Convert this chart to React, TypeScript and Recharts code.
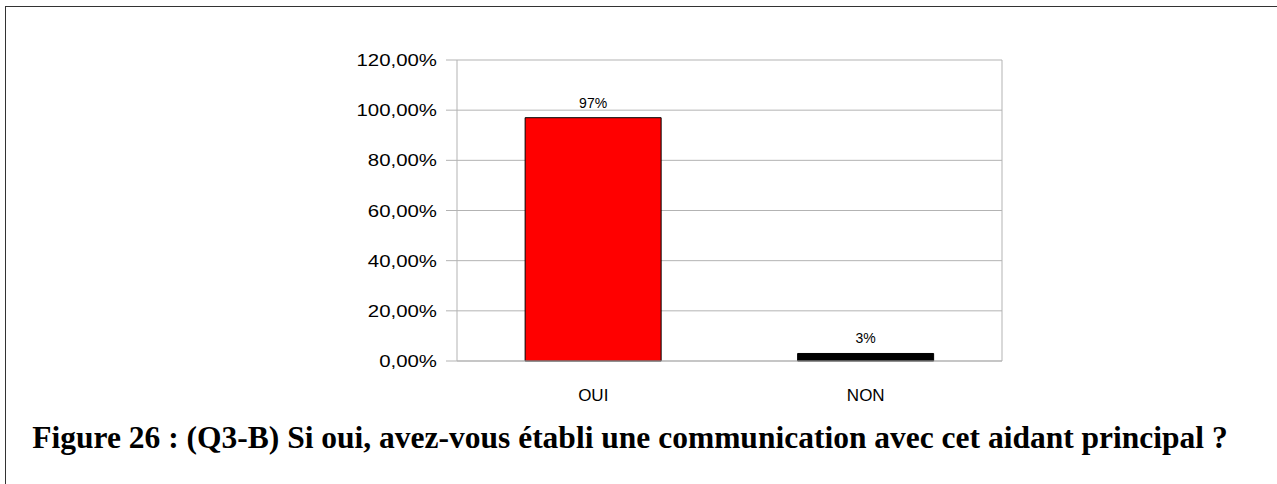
import { Bar, BarChart, CartesianGrid, Cell, LabelList, XAxis, YAxis } from 'recharts';

const categories = ['OUI', 'NON'];
const values = [97, 3];
const barColors = ['#ff0000', '#000000'];
const yTicks = [0, 20, 40, 60, 80, 100, 120];
const title = 'Figure 26 : (Q3-B) Si oui, avez-vous établi une communication avec cet aidant principal ?';

const data = categories.map((name, i) => ({ name, value: values[i] }));

const GRID = '#b3b3b3';

function YTick(props: any) {
  const { x, y, payload } = props;
  const label = `${payload.value.toFixed(2).replace('.', ',')}%`;
  return (
    <text
      transform={`translate(${x},${y}) scale(1.2,1)`}
      dy="0.355em"
      textAnchor="end"
      fontSize={17}
      fontFamily="'Liberation Sans', Arial, sans-serif"
      fill="#000"
    >
      {label}
    </text>
  );
}

export default function App() {
  return (
    <div
      style={{
        position: 'absolute',
        left: 0,
        top: 0,
        width: 1277,
        height: 484,
        background: '#fff',
        overflow: 'hidden',
      }}
    >
      <div
        style={{
          position: 'absolute',
          left: 5,
          top: 6,
          width: 1300,
          height: 500,
          borderTop: '1px solid #333',
          borderLeft: '1px solid #333',
        }}
      />
      <div style={{ position: 'absolute', left: 0, top: 0 }}>
        <BarChart
          width={1277}
          height={484}
          data={data}
          margin={{ top: 60, right: 275, bottom: 83, left: 357 }}
          barCategoryGap="25%"
        >
          <CartesianGrid
            stroke={GRID}
            strokeDasharray=""
            vertical
            verticalCoordinatesGenerator={({ offset }: any) => [offset.left + offset.width]}
          />
          <XAxis
            xAxisId="edges"
            type="number"
            domain={[0, 2]}
            ticks={[0, 1, 2]}
            height={0}
            axisLine={false}
            tickSize={11}
            tickLine={{ stroke: GRID }}
            tick={false}
          />
          <XAxis
            dataKey="name"
            height={40}
            axisLine={{ stroke: GRID }}
            tickLine={false}
            tickSize={11}
            tickMargin={17}
            tick={{ fontSize: 17, fill: '#000', fontFamily: "'Liberation Sans', Arial, sans-serif" }}
          />
          <YAxis
            width={100}
            domain={[0, 120]}
            ticks={yTicks}
            interval={0}
            axisLine={{ stroke: GRID }}
            tickLine={{ stroke: GRID }}
            tickSize={11}
            tickMargin={9}
            tick={<YTick />}
          />
          <Bar dataKey="value" stroke="#000" strokeWidth={1} isAnimationActive={false}>
            {data.map((d, i) => (
              <Cell key={d.name} fill={barColors[i]} />
            ))}
            <LabelList
              dataKey="value"
              position="top"
              offset={10}
              formatter={(v: any) => `${v}%`}
              fontSize={14}
              fill="#000"
              fontFamily="'Liberation Sans', Arial, sans-serif"
            />
          </Bar>
        </BarChart>
      </div>
      <div
        style={{
          position: 'absolute',
          left: 0,
          top: 420,
          width: 1260,
          textAlign: 'center',
          fontFamily: "'Liberation Serif', 'Times New Roman', serif",
          fontWeight: 'bold',
          fontSize: 31.5,
          color: '#000',
          whiteSpace: 'nowrap',
        }}
      >
        {title}
      </div>
    </div>
  );
}
